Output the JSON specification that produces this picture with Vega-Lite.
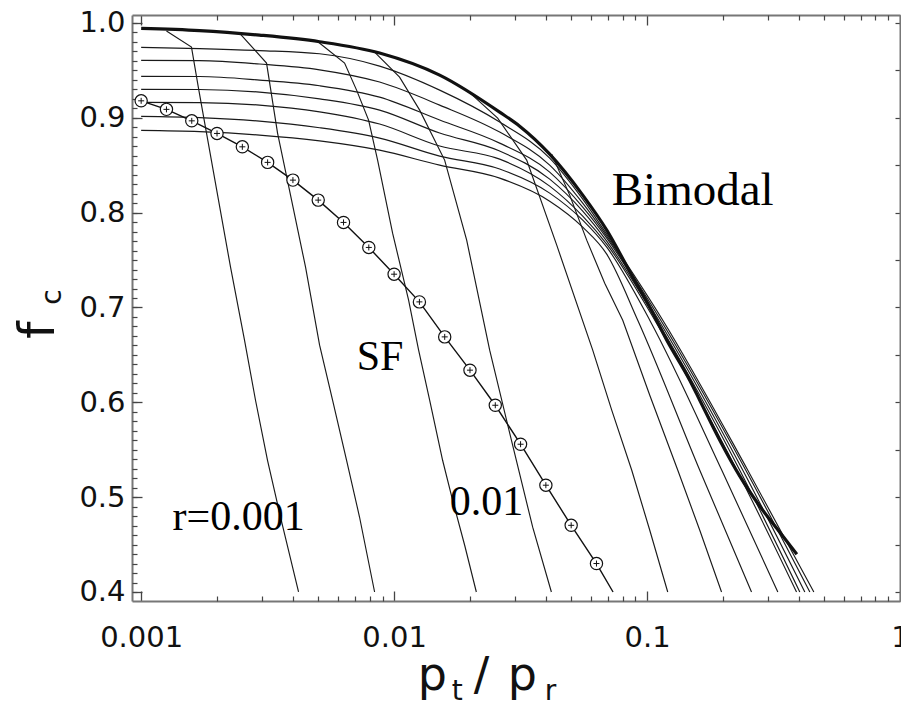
{
  "$schema": "https://vega.github.io/schema/vega-lite/v6.json",
  "width": 768,
  "height": 586,
  "autosize": {"type": "none"},
  "padding": {"left": 132, "top": 15, "right": 1, "bottom": 106},
  "background": "white",
  "config": {"view": {"stroke": null}, "axis": {"grid": false, "title": null}},
  "datasets": {
    "hlines": [
      {"id": "H1", "x": 0.001, "y": 0.9743}, {"id": "H1", "x": 0.001701, "y": 0.9730}, {"id": "H1", "x": 0.002937, "y": 0.9709}, {"id": "H1", "x": 0.005075, "y": 0.9675}, {"id": "H1", "x": 0.008763, "y": 0.9545}, {"id": "H1", "x": 0.01514, "y": 0.9292}, {"id": "H1", "x": 0.02614, "y": 0.8955}, {"id": "H1", "x": 0.04122, "y": 0.8575}, {"id": "H1", "x": 0.05568, "y": 0.8142}, {"id": "H1", "x": 0.06928, "y": 0.7773}, {"id": "H1", "x": 0.1154, "y": 0.6866}, {"id": "H1", "x": 0.2502, "y": 0.5284}, {"id": "H1", "x": 0.4564, "y": 0.4},
      {"id": "H2", "x": 0.001, "y": 0.9606}, {"id": "H2", "x": 0.001701, "y": 0.9603}, {"id": "H2", "x": 0.002937, "y": 0.9567}, {"id": "H2", "x": 0.005075, "y": 0.9506}, {"id": "H2", "x": 0.008763, "y": 0.9377}, {"id": "H2", "x": 0.01514, "y": 0.9134}, {"id": "H2", "x": 0.02614, "y": 0.8849}, {"id": "H2", "x": 0.04122, "y": 0.8501}, {"id": "H2", "x": 0.05568, "y": 0.8100}, {"id": "H2", "x": 0.06928, "y": 0.7752}, {"id": "H2", "x": 0.1133, "y": 0.6866}, {"id": "H2", "x": 0.2457, "y": 0.5284}, {"id": "H2", "x": 0.4401, "y": 0.4},
      {"id": "H3", "x": 0.001, "y": 0.9437}, {"id": "H3", "x": 0.001701, "y": 0.9435}, {"id": "H3", "x": 0.002937, "y": 0.9398}, {"id": "H3", "x": 0.005075, "y": 0.9338}, {"id": "H3", "x": 0.008763, "y": 0.9218}, {"id": "H3", "x": 0.01514, "y": 0.8976}, {"id": "H3", "x": 0.02614, "y": 0.8733}, {"id": "H3", "x": 0.04122, "y": 0.8427}, {"id": "H3", "x": 0.05568, "y": 0.8058}, {"id": "H3", "x": 0.06928, "y": 0.7731}, {"id": "H3", "x": 0.1112, "y": 0.6866}, {"id": "H3", "x": 0.2391, "y": 0.5284}, {"id": "H3", "x": 0.4205, "y": 0.4},
      {"id": "H4", "x": 0.001, "y": 0.9300}, {"id": "H4", "x": 0.001701, "y": 0.9298}, {"id": "H4", "x": 0.002937, "y": 0.9271}, {"id": "H4", "x": 0.005075, "y": 0.9200}, {"id": "H4", "x": 0.008763, "y": 0.9081}, {"id": "H4", "x": 0.01514, "y": 0.8839}, {"id": "H4", "x": 0.02614, "y": 0.8649}, {"id": "H4", "x": 0.04122, "y": 0.8353}, {"id": "H4", "x": 0.05568, "y": 0.8016}, {"id": "H4", "x": 0.06928, "y": 0.7699}, {"id": "H4", "x": 0.1092, "y": 0.6866}, {"id": "H4", "x": 0.2326, "y": 0.5284}, {"id": "H4", "x": 0.4018, "y": 0.4},
      {"id": "H5", "x": 0.001, "y": 0.9162}, {"id": "H5", "x": 0.001701, "y": 0.9160}, {"id": "H5", "x": 0.002937, "y": 0.9134}, {"id": "H5", "x": 0.005075, "y": 0.9063}, {"id": "H5", "x": 0.008763, "y": 0.8934}, {"id": "H5", "x": 0.01514, "y": 0.8702}, {"id": "H5", "x": 0.02614, "y": 0.8564}, {"id": "H5", "x": 0.04122, "y": 0.8280}, {"id": "H5", "x": 0.05568, "y": 0.7963}, {"id": "H5", "x": 0.06928, "y": 0.7668}, {"id": "H5", "x": 0.1073, "y": 0.6866}, {"id": "H5", "x": 0.2264, "y": 0.5284}, {"id": "H5", "x": 0.3899, "y": 0.4},
      {"id": "H6", "x": 0.001, "y": 0.9015}, {"id": "H6", "x": 0.001701, "y": 0.9002}, {"id": "H6", "x": 0.002937, "y": 0.8965}, {"id": "H6", "x": 0.005075, "y": 0.8895}, {"id": "H6", "x": 0.008763, "y": 0.8786}, {"id": "H6", "x": 0.01514, "y": 0.8596}, {"id": "H6", "x": 0.02614, "y": 0.8460}, {"id": "H6", "x": 0.04122, "y": 0.8206}, {"id": "H6", "x": 0.05568, "y": 0.7921}, {"id": "H6", "x": 0.06928, "y": 0.7636}, {"id": "H6", "x": 0.1025, "y": 0.6866}, {"id": "H6", "x": 0.1975, "y": 0.5284}, {"id": "H6", "x": 0.3289, "y": 0.4},
      {"id": "H7", "x": 0.001, "y": 0.8867}, {"id": "H7", "x": 0.001701, "y": 0.8854}, {"id": "H7", "x": 0.002937, "y": 0.8818}, {"id": "H7", "x": 0.005075, "y": 0.8757}, {"id": "H7", "x": 0.008763, "y": 0.8659}, {"id": "H7", "x": 0.01514, "y": 0.8501}, {"id": "H7", "x": 0.02614, "y": 0.8364}, {"id": "H7", "x": 0.04122, "y": 0.8121}, {"id": "H7", "x": 0.05568, "y": 0.7847}, {"id": "H7", "x": 0.06928, "y": 0.7562}, {"id": "H7", "x": 0.09188, "y": 0.6866}, {"id": "H7", "x": 0.1616, "y": 0.5284}, {"id": "H7", "x": 0.2588, "y": 0.4}
    ],
    "slines": [
      {"id": "S1", "x": 0.001259, "y": 0.9915}, {"id": "S1", "x": 0.001581, "y": 0.9746}, {"id": "S1", "x": 0.001685, "y": 0.9313}, {"id": "S1", "x": 0.001813, "y": 0.8839}, {"id": "S1", "x": 0.002022, "y": 0.8132}, {"id": "S1", "x": 0.002256, "y": 0.7425}, {"id": "S1", "x": 0.002562, "y": 0.6655}, {"id": "S1", "x": 0.002832, "y": 0.6022}, {"id": "S1", "x": 0.003159, "y": 0.5389}, {"id": "S1", "x": 0.003557, "y": 0.4788}, {"id": "S1", "x": 0.00419, "y": 0.4},
      {"id": "S2", "x": 0.002448, "y": 0.9894}, {"id": "S2", "x": 0.003131, "y": 0.9577}, {"id": "S2", "x": 0.003461, "y": 0.8839}, {"id": "S2", "x": 0.003932, "y": 0.8132}, {"id": "S2", "x": 0.004466, "y": 0.7425}, {"id": "S2", "x": 0.005075, "y": 0.6602}, {"id": "S2", "x": 0.005711, "y": 0.6022}, {"id": "S2", "x": 0.006488, "y": 0.5389}, {"id": "S2", "x": 0.007303, "y": 0.4788}, {"id": "S2", "x": 0.008373, "y": 0.4},
      {"id": "S3", "x": 0.004983, "y": 0.9804}, {"id": "S3", "x": 0.006371, "y": 0.9577}, {"id": "S3", "x": 0.007107, "y": 0.9292}, {"id": "S3", "x": 0.007927, "y": 0.8976}, {"id": "S3", "x": 0.008605, "y": 0.8554}, {"id": "S3", "x": 0.009864, "y": 0.7784}, {"id": "S3", "x": 0.01141, "y": 0.7077}, {"id": "S3", "x": 0.0125, "y": 0.655}, {"id": "S3", "x": 0.01382, "y": 0.6022}, {"id": "S3", "x": 0.01555, "y": 0.5389}, {"id": "S3", "x": 0.01704, "y": 0.4967}, {"id": "S3", "x": 0.01901, "y": 0.4493}, {"id": "S3", "x": 0.02114, "y": 0.4},
      {"id": "S4", "x": 0.008373, "y": 0.9693}, {"id": "S4", "x": 0.01051, "y": 0.9429}, {"id": "S4", "x": 0.01262, "y": 0.9081}, {"id": "S4", "x": 0.01584, "y": 0.8554}, {"id": "S4", "x": 0.01936, "y": 0.771}, {"id": "S4", "x": 0.02387, "y": 0.655}, {"id": "S4", "x": 0.02864, "y": 0.5674}, {"id": "S4", "x": 0.03531, "y": 0.4683}, {"id": "S4", "x": 0.04186, "y": 0.4},
      {"id": "S5", "x": 0.01989, "y": 0.9265}, {"id": "S5", "x": 0.02567, "y": 0.8997}, {"id": "S5", "x": 0.03343, "y": 0.8554}, {"id": "S5", "x": 0.04395, "y": 0.7657}, {"id": "S5", "x": 0.06098, "y": 0.655}, {"id": "S5", "x": 0.0725, "y": 0.5917}, {"id": "S5", "x": 0.087, "y": 0.5284}, {"id": "S5", "x": 0.1025, "y": 0.4651}, {"id": "S5", "x": 0.1207, "y": 0.4},
      {"id": "S6", "x": 0.04198, "y": 0.8617}, {"id": "S6", "x": 0.04945, "y": 0.8185}, {"id": "S6", "x": 0.05774, "y": 0.771}, {"id": "S6", "x": 0.06803, "y": 0.7256}, {"id": "S6", "x": 0.08015, "y": 0.6866}, {"id": "S6", "x": 0.1025, "y": 0.6075}, {"id": "S6", "x": 0.1323, "y": 0.5284}, {"id": "S6", "x": 0.1616, "y": 0.4651}, {"id": "S6", "x": 0.197, "y": 0.4}
    ],
    "thick": [
      {"x": 0.001, "y": 0.9943}, {"x": 0.001701, "y": 0.992}, {"x": 0.002937, "y": 0.9872}, {"x": 0.005075, "y": 0.9802}, {"x": 0.008763, "y": 0.9683}, {"x": 0.01514, "y": 0.945}, {"x": 0.02614, "y": 0.906}, {"x": 0.03136, "y": 0.8912}, {"x": 0.04122, "y": 0.8617}, {"x": 0.05568, "y": 0.8185}, {"x": 0.06928, "y": 0.7816}, {"x": 0.0878, "y": 0.732}, {"x": 0.1025, "y": 0.7003}, {"x": 0.1197, "y": 0.6655}, {"x": 0.1475, "y": 0.6233}, {"x": 0.1616, "y": 0.6022}, {"x": 0.1939, "y": 0.56}, {"x": 0.2326, "y": 0.5221}, {"x": 0.2791, "y": 0.4904}, {"x": 0.3349, "y": 0.463}, {"x": 0.391, "y": 0.4398}
    ],
    "sf": [
      {"x": 0.001, "y": 0.9179}, {"x": 0.001259, "y": 0.9089}, {"x": 0.001585, "y": 0.8968}, {"x": 0.001995, "y": 0.8835}, {"x": 0.002512, "y": 0.8694}, {"x": 0.003162, "y": 0.853}, {"x": 0.003981, "y": 0.8343}, {"x": 0.005012, "y": 0.8132}, {"x": 0.00631, "y": 0.7897}, {"x": 0.007943, "y": 0.7633}, {"x": 0.01, "y": 0.7351}, {"x": 0.01259, "y": 0.7059}, {"x": 0.01585, "y": 0.669}, {"x": 0.01995, "y": 0.6339}, {"x": 0.02512, "y": 0.5969}, {"x": 0.03162, "y": 0.5558}, {"x": 0.03981, "y": 0.5126}, {"x": 0.05012, "y": 0.4703}, {"x": 0.0631, "y": 0.43}
    ],
    "sfline": [
      {"x": 0.001, "y": 0.9179}, {"x": 0.001259, "y": 0.9089}, {"x": 0.001585, "y": 0.8968}, {"x": 0.001995, "y": 0.8835}, {"x": 0.002512, "y": 0.8694}, {"x": 0.003162, "y": 0.853}, {"x": 0.003981, "y": 0.8343}, {"x": 0.005012, "y": 0.8132}, {"x": 0.00631, "y": 0.7897}, {"x": 0.007943, "y": 0.7633}, {"x": 0.01, "y": 0.7351}, {"x": 0.01259, "y": 0.7059}, {"x": 0.01585, "y": 0.669}, {"x": 0.01995, "y": 0.6339}, {"x": 0.02512, "y": 0.5969}, {"x": 0.03162, "y": 0.5558}, {"x": 0.03981, "y": 0.5126}, {"x": 0.05012, "y": 0.4703}, {"x": 0.0631, "y": 0.43}, {"x": 0.07337, "y": 0.4}
    ],
    "notes": [
      {"text": "SF", "x": 0.00711, "y": 0.6339},
      {"text": "r=0.001", "x": 0.00133, "y": 0.4651},
      {"text": "0.01", "x": 0.01658, "y": 0.4809}
    ],
    "bimodal": [
      {"text": "Bimodal", "x": 0.0725, "y": 0.8079}
    ],
    "xtitle": [
      {"text": "p", "x": 0.01239, "y": 0.2963},
      {"text": "/", "x": 0.02063, "y": 0.2963},
      {"text": "p", "x": 0.02812, "y": 0.2963}
    ],
    "xsub": [
      {"text": "t", "x": 0.01689, "y": 0.2858},
      {"text": "r", "x": 0.03938, "y": 0.2858}
    ],
    "ytitle": [{"text": "f", "x": 0.000454, "y": 0.6761}],
    "ysub": [{"text": "c", "x": 0.000484, "y": 0.7109}]
  },
  "layer": [
    {
      "data": {"name": "hlines"},
      "mark": {"type": "line", "color": "#1a1a1a", "strokeWidth": 1.15, "interpolate": "monotone"},
      "encoding": {
        "x": {"field": "x", "type": "quantitative", "scale": {"type": "log", "domain": [0.00092, 1], "nice": false},
          "axis": {"orient": "bottom", "values": [0.001, 0.01, 0.1, 1], "format": "~g", "tickSize": -10, "tickWidth": 1.3, "tickColor": "#444", "domainColor": "#777", "domainWidth": 2, "labelFont": "DejaVu Sans", "labelFontSize": 29, "labelColor": "#111", "labelPadding": 32, "labelFlush": false, "labelOverlap": false, "title": null}},
        "y": {"field": "y", "type": "quantitative", "scale": {"domain": [0.3905, 1.0084], "nice": false, "zero": false},
          "axis": {"orient": "left", "values": [0.4, 0.5, 0.6, 0.7, 0.8, 0.9, 1.0], "format": ".1f", "tickSize": -10, "tickWidth": 1.3, "tickColor": "#444", "domainColor": "#777", "domainWidth": 2, "labelFont": "DejaVu Sans", "labelFontSize": 29, "labelColor": "#111", "labelPadding": 17, "labelOverlap": false, "title": null}},
        "detail": {"field": "id"}
      }
    },
    {
      "data": {"name": "slines"},
      "mark": {"type": "line", "color": "#1a1a1a", "strokeWidth": 1.15},
      "encoding": {
        "x": {"field": "x", "type": "quantitative", "scale": {"type": "log", "domain": [0.00092, 1], "nice": false}, "axis": null},
        "y": {"field": "y", "type": "quantitative", "scale": {"domain": [0.3905, 1.0084], "nice": false, "zero": false}, "axis": null},
        "detail": {"field": "id"}
      }
    },
    {
      "data": {"name": "thick"},
      "mark": {"type": "line", "color": "#111", "strokeWidth": 3.2, "interpolate": "monotone"},
      "encoding": {
        "x": {"field": "x", "type": "quantitative", "scale": {"type": "log", "domain": [0.00092, 1], "nice": false},
          "axis": {"orient": "bottom", "values": [0.002, 0.003, 0.004, 0.005, 0.006, 0.007, 0.008, 0.009, 0.02, 0.03, 0.04, 0.05, 0.06, 0.07, 0.08, 0.09, 0.2, 0.3, 0.4, 0.5, 0.6, 0.7, 0.8, 0.9], "tickSize": -5, "tickWidth": 1.2, "tickColor": "#444", "labels": false, "domain": false, "title": null}},
        "y": {"field": "y", "type": "quantitative", "scale": {"domain": [0.3905, 1.0084], "nice": false, "zero": false},
          "axis": {"orient": "left", "values": [0.4, 0.41, 0.42, 0.43, 0.44, 0.45, 0.46, 0.47, 0.48, 0.49, 0.5, 0.51, 0.52, 0.53, 0.54, 0.55, 0.56, 0.57, 0.58, 0.59, 0.6, 0.61, 0.62, 0.63, 0.64, 0.65, 0.66, 0.67, 0.68, 0.69, 0.7, 0.71, 0.72, 0.73, 0.74, 0.75, 0.76, 0.77, 0.78, 0.79, 0.8, 0.81, 0.82, 0.83, 0.84, 0.85, 0.86, 0.87, 0.88, 0.89, 0.9, 0.91, 0.92, 0.93, 0.94, 0.95, 0.96, 0.97, 0.98, 0.99, 1.0], "tickSize": -5, "tickWidth": 1.2, "tickColor": "#444", "labels": false, "domain": false, "title": null}}
      }
    },
    {
      "data": {"name": "sfline"},
      "mark": {"type": "line", "color": "#111", "strokeWidth": 1.4},
      "encoding": {
        "x": {"field": "x", "type": "quantitative", "scale": {"type": "log", "domain": [0.00092, 1], "nice": false},
          "axis": {"orient": "top", "values": [0.001, 0.01, 0.1, 1], "tickSize": -10, "tickWidth": 1.3, "tickColor": "#444", "domainColor": "#777", "domainWidth": 2, "labels": false, "title": null}},
        "y": {"field": "y", "type": "quantitative", "scale": {"domain": [0.3905, 1.0084], "nice": false, "zero": false},
          "axis": {"orient": "right", "values": [0.4, 0.45, 0.5, 0.55, 0.6, 0.65, 0.7, 0.75, 0.8, 0.85, 0.9, 0.95, 1.0], "tickSize": -5, "tickWidth": 1.2, "tickColor": "#444", "domainColor": "#777", "domainWidth": 2, "labels": false, "title": null}}
      }
    },
    {
      "data": {"name": "sf"},
      "mark": {"type": "point", "shape": "circle", "filled": true, "fill": "white", "stroke": "#111", "strokeWidth": 1.2, "size": 150, "opacity": 1},
      "encoding": {
        "x": {"field": "x", "type": "quantitative", "scale": {"type": "log", "domain": [0.00092, 1], "nice": false},
          "axis": {"orient": "top", "values": [0.002, 0.003, 0.004, 0.005, 0.006, 0.007, 0.008, 0.009, 0.02, 0.03, 0.04, 0.05, 0.06, 0.07, 0.08, 0.09, 0.2, 0.3, 0.4, 0.5, 0.6, 0.7, 0.8, 0.9], "tickSize": -5, "tickWidth": 1.2, "tickColor": "#444", "labels": false, "domain": false, "title": null}},
        "y": {"field": "y", "type": "quantitative", "scale": {"domain": [0.3905, 1.0084], "nice": false, "zero": false}, "axis": null}
      }
    },
    {
      "data": {"name": "sf"},
      "mark": {"type": "point", "shape": "M -1 0 L 1 0 M 0 -1 L 0 1", "filled": false, "stroke": "#111", "strokeWidth": 1, "size": 36, "opacity": 1},
      "encoding": {
        "x": {"field": "x", "type": "quantitative", "scale": {"type": "log", "domain": [0.00092, 1], "nice": false}, "axis": null},
        "y": {"field": "y", "type": "quantitative", "scale": {"domain": [0.3905, 1.0084], "nice": false, "zero": false}, "axis": null}
      }
    },
    {
      "data": {"name": "notes"},
      "mark": {"type": "text", "font": "Liberation Serif", "fontSize": 42, "align": "left", "baseline": "alphabetic", "color": "black"},
      "encoding": {
        "x": {"field": "x", "type": "quantitative", "scale": {"type": "log", "domain": [0.00092, 1], "nice": false}, "axis": null},
        "y": {"field": "y", "type": "quantitative", "scale": {"domain": [0.3905, 1.0084], "nice": false, "zero": false}, "axis": null},
        "text": {"field": "text"}
      }
    },
    {
      "data": {"name": "bimodal"},
      "mark": {"type": "text", "font": "Liberation Serif", "fontSize": 47, "align": "left", "baseline": "alphabetic", "color": "black"},
      "encoding": {
        "x": {"field": "x", "type": "quantitative", "scale": {"type": "log", "domain": [0.00092, 1], "nice": false}, "axis": null},
        "y": {"field": "y", "type": "quantitative", "scale": {"domain": [0.3905, 1.0084], "nice": false, "zero": false}, "axis": null},
        "text": {"field": "text"}
      }
    },
    {
      "data": {"name": "xtitle"},
      "mark": {"type": "text", "font": "DejaVu Sans", "fontSize": 46, "align": "left", "baseline": "alphabetic", "color": "#111"},
      "encoding": {
        "x": {"field": "x", "type": "quantitative", "scale": {"type": "log", "domain": [0.00092, 1], "nice": false}, "axis": null},
        "y": {"field": "y", "type": "quantitative", "scale": {"domain": [0.3905, 1.0084], "nice": false, "zero": false}, "axis": null},
        "text": {"field": "text"}
      }
    },
    {
      "data": {"name": "xsub"},
      "mark": {"type": "text", "font": "DejaVu Sans", "fontSize": 28, "align": "left", "baseline": "alphabetic", "color": "#111"},
      "encoding": {
        "x": {"field": "x", "type": "quantitative", "scale": {"type": "log", "domain": [0.00092, 1], "nice": false}, "axis": null},
        "y": {"field": "y", "type": "quantitative", "scale": {"domain": [0.3905, 1.0084], "nice": false, "zero": false}, "axis": null},
        "text": {"field": "text"}
      }
    },
    {
      "data": {"name": "ytitle"},
      "mark": {"type": "text", "font": "DejaVu Sans", "fontSize": 50, "align": "center", "baseline": "alphabetic", "angle": 270, "color": "#111"},
      "encoding": {
        "x": {"field": "x", "type": "quantitative", "scale": {"type": "log", "domain": [0.00092, 1], "nice": false}, "axis": null},
        "y": {"field": "y", "type": "quantitative", "scale": {"domain": [0.3905, 1.0084], "nice": false, "zero": false}, "axis": null},
        "text": {"field": "text"}
      }
    },
    {
      "data": {"name": "ysub"},
      "mark": {"type": "text", "font": "DejaVu Sans", "fontSize": 28, "align": "center", "baseline": "alphabetic", "angle": 270, "color": "#111"},
      "encoding": {
        "x": {"field": "x", "type": "quantitative", "scale": {"type": "log", "domain": [0.00092, 1], "nice": false}, "axis": null},
        "y": {"field": "y", "type": "quantitative", "scale": {"domain": [0.3905, 1.0084], "nice": false, "zero": false}, "axis": null},
        "text": {"field": "text"}
      }
    }
  ],
  "resolve": {"axis": {"x": "independent", "y": "independent"}}
}
